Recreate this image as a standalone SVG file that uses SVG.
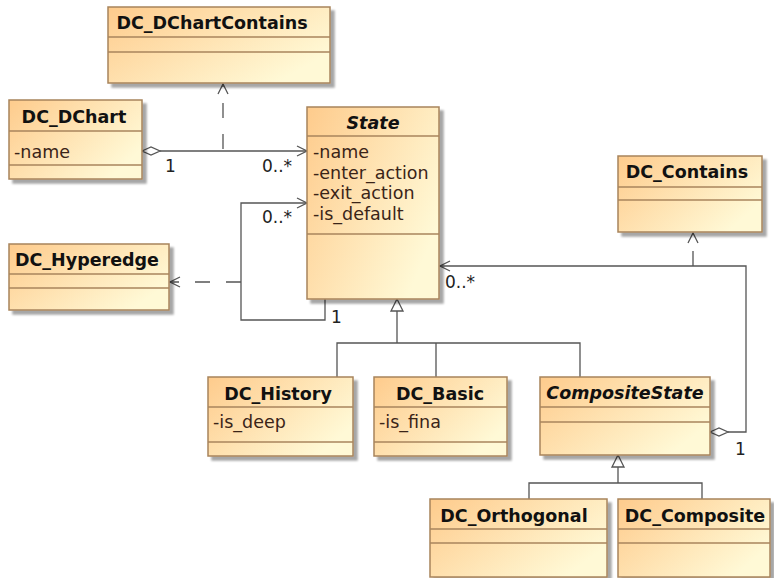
<svg xmlns="http://www.w3.org/2000/svg" width="774" height="578" viewBox="0 0 774 578">
<defs>
<linearGradient id="g" x1="0" y1="0" x2="1" y2="0.6">
<stop offset="0" stop-color="#FECB8C"/>
<stop offset="1" stop-color="#FFF9D6"/>
</linearGradient>
<filter id="sh" x="-10%" y="-10%" width="130%" height="130%">
<feGaussianBlur in="SourceAlpha" stdDeviation="1.2"/>
<feOffset dx="4" dy="4" result="b"/>
<feComponentTransfer><feFuncA type="linear" slope="0.35"/></feComponentTransfer>
<feMerge><feMergeNode/><feMergeNode in="SourceGraphic"/></feMerge>
</filter>
<marker id="open" viewBox="0 0 12 12" refX="11" refY="6" markerWidth="12" markerHeight="12" markerUnits="userSpaceOnUse" orient="auto">
<path d="M1,1 L11,6 L1,11" fill="none" stroke="#555" stroke-width="1.3"/>
</marker>
</defs>
<style>
.box{fill:url(#g);stroke:#A8845C;stroke-width:1.5;filter:url(#sh)}
.sep{stroke:#A8845C;stroke-width:1.5}
.nm{font-family:"DejaVu Sans",sans-serif;font-weight:bold;font-size:17.5px;fill:#111;text-anchor:middle}
.it{font-style:italic}
.at{font-family:"DejaVu Sans",sans-serif;font-size:17.5px;fill:#3a2418}
.lb{font-family:"DejaVu Sans",sans-serif;font-size:17px;fill:#222}
.ln{fill:none;stroke:#555;stroke-width:1.3}
.dash{stroke-dasharray:15,16}
.tri{fill:#fff;stroke:#555;stroke-width:1.3}
</style>

<g id="connectors">
<path class="ln" d="M160,151 L307,151" marker-end="url(#open)"/>
<path class="tri" d="M142,151 L151,147 L160,151 L151,155 Z"/>
<path class="ln dash" d="M223,151 L223,84" marker-end="url(#open)" stroke-dashoffset="-2"/>
<path class="ln" d="M325,299 L325,320 L241,320 L241,203 L307,203" marker-end="url(#open)"/>
<path class="ln dash" d="M241,282 L170,282" marker-end="url(#open)"/>
<path class="ln" d="M728,432 L746,432 L746,266 L440,266" marker-end="url(#open)"/>
<path class="tri" d="M710,432 L719,428 L728,432 L719,436 Z"/>
<path class="ln dash" d="M693,266 L693,233" marker-end="url(#open)"/>
<path class="ln" d="M397,311 L397,343 M337,377 L337,343 L580,343 L580,377 M436,343 L436,377"/>
<path class="tri" d="M397,299 L403,311 L391,311 Z"/>
<path class="ln" d="M618,467 L618,483 M529,499 L529,483 L702,483 L702,499"/>
<path class="tri" d="M618,455 L624,467 L612,467 Z"/>
<text class="lb" x="165" y="172">1</text>
<text class="lb" x="262" y="172">0..*</text>
<text class="lb" x="262" y="223">0..*</text>
<text class="lb" x="331" y="323">1</text>
<text class="lb" x="445" y="288">0..*</text>
<text class="lb" x="735" y="455">1</text>
</g>

<g id="DC_DChartContains">
<rect class="box" x="108" y="7" width="222" height="76"/>
<line class="sep" x1="108" y1="37" x2="330" y2="37"/>
<line class="sep" x1="108" y1="52" x2="330" y2="52"/>
<text class="nm" x="212" y="29">DC_DChartContains</text>
</g>

<g id="DC_DChart">
<rect class="box" x="9" y="100" width="133" height="79"/>
<line class="sep" x1="9" y1="131" x2="142" y2="131"/>
<line class="sep" x1="9" y1="165" x2="142" y2="165"/>
<text class="nm" x="74" y="123">DC_DChart</text>
<text class="at" x="14" y="158">-name</text>
</g>

<g id="State">
<rect class="box" x="307" y="107" width="132" height="192"/>
<line class="sep" x1="307" y1="136" x2="439" y2="136"/>
<line class="sep" x1="307" y1="234" x2="439" y2="234"/>
<text class="nm it" x="373" y="129">State</text>
<text class="at" x="313" y="158">-name</text>
<text class="at" x="313" y="178.5">-enter_action</text>
<text class="at" x="313" y="199">-exit_action</text>
<text class="at" x="313" y="219.5">-is_default</text>
</g>

<g id="DC_Hyperedge">
<rect class="box" x="9" y="244" width="160" height="66"/>
<line class="sep" x1="9" y1="274" x2="169" y2="274"/>
<line class="sep" x1="9" y1="288" x2="169" y2="288"/>
<text class="nm" x="87" y="266">DC_Hyperedge</text>
</g>

<g id="DC_Contains">
<rect class="box" x="618" y="156" width="144" height="76"/>
<line class="sep" x1="618" y1="187" x2="762" y2="187"/>
<line class="sep" x1="618" y1="200" x2="762" y2="200"/>
<text class="nm" x="687" y="178">DC_Contains</text>
</g>

<g id="DC_History">
<rect class="box" x="208" y="377" width="145" height="79"/>
<line class="sep" x1="208" y1="407" x2="353" y2="407"/>
<line class="sep" x1="208" y1="442" x2="353" y2="442"/>
<text class="nm" x="278" y="400">DC_History</text>
<text class="at" x="213" y="428">-is_deep</text>
</g>

<g id="DC_Basic">
<rect class="box" x="374" y="377" width="133" height="79"/>
<line class="sep" x1="374" y1="407" x2="507" y2="407"/>
<line class="sep" x1="374" y1="442" x2="507" y2="442"/>
<text class="nm" x="440" y="400">DC_Basic</text>
<text class="at" x="379" y="428">-is_fina</text>
</g>

<g id="CompositeState">
<rect class="box" x="540" y="377" width="170" height="78"/>
<line class="sep" x1="540" y1="407" x2="710" y2="407"/>
<line class="sep" x1="540" y1="422" x2="710" y2="422"/>
<text class="nm it" x="625" y="399">CompositeState</text>
</g>

<g id="DC_Orthogonal">
<rect class="box" x="430" y="499" width="177" height="78"/>
<line class="sep" x1="430" y1="529" x2="607" y2="529"/>
<line class="sep" x1="430" y1="543" x2="607" y2="543"/>
<text class="nm" x="514" y="522">DC_Orthogonal</text>
</g>

<g id="DC_Composite">
<rect class="box" x="618" y="499" width="152" height="78"/>
<line class="sep" x1="618" y1="529" x2="770" y2="529"/>
<line class="sep" x1="618" y1="543" x2="770" y2="543"/>
<text class="nm" x="695" y="522">DC_Composite</text>
</g>
</svg>
